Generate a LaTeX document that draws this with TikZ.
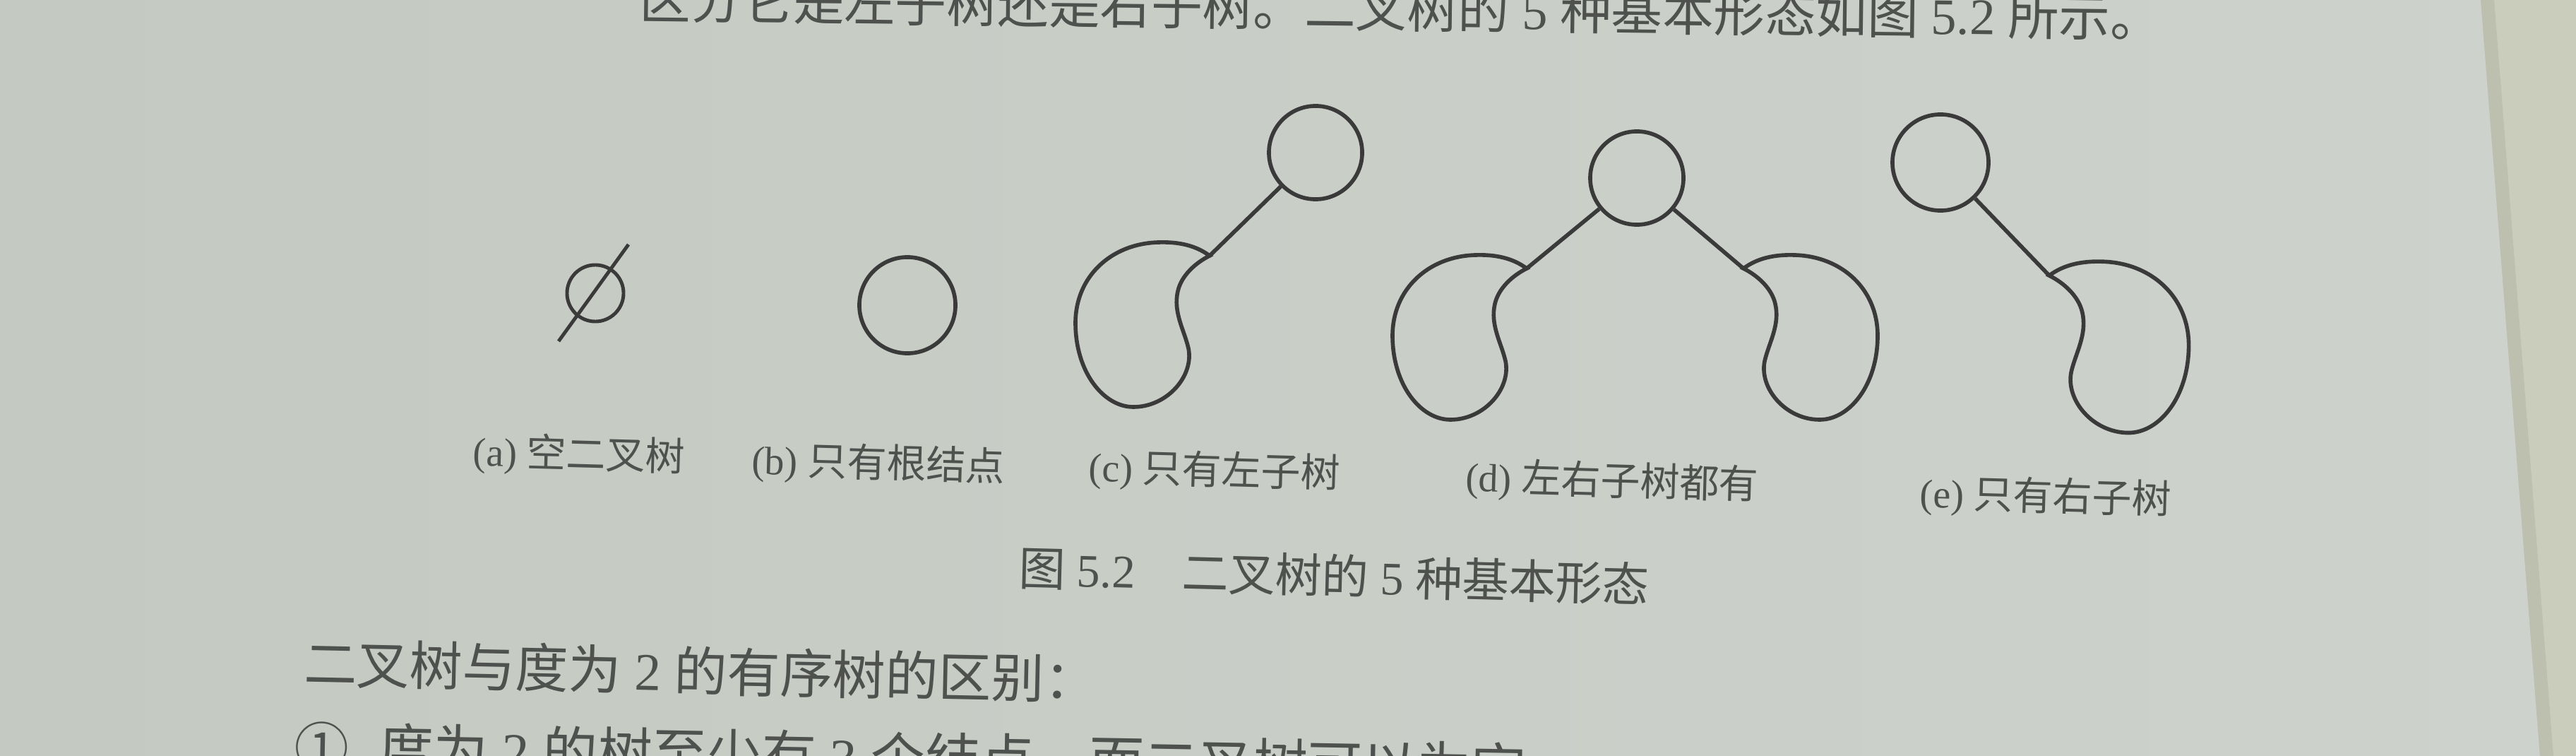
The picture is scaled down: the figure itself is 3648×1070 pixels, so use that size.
\documentclass[tikz,border=0pt]{standalone}
\usepackage{fontspec}
\setmainfont{Liberation Serif}
\newfontfamily\cjk{Noto Sans CJK SC}
\definecolor{page}{RGB}{196,201,193}
\definecolor{pageR}{RGB}{205,210,205}
\definecolor{margin}{RGB}{203,205,188}
\definecolor{edgeshade}{RGB}{189,192,175}
\definecolor{ink}{RGB}{58,58,58}
\definecolor{txt}{RGB}{78,81,78}
\tikzset{
  tree node/.style={circle,draw=ink,line width=1.6pt,minimum size=1.32cm,inner sep=0pt},
  tree edge/.style={draw=ink,line width=1.6pt},
  sub label/.style={text=txt,inner sep=0pt,rotate=-1.6,font=\fontsize{15.9}{18}\selectfont},
  body text/.style={text=txt,inner sep=0pt},
  subtree/.pic={
    \draw[tree edge] (0,0) .. controls (-20,-15) and (-45,-20) .. (-73,-19)
      .. controls (-140,-17) and (-190,30) .. (-190,95)
      .. controls (-190,165) and (-150,214) .. (-108,214)
      .. controls (-60,214) and (-22,170) .. (-30,131)
      .. controls (-36,105) and (-52,80) .. (-45,50)
      .. controls (-40,28) and (-20,10) .. (0,0) -- cycle;
  }
}
\begin{document}
\begin{tikzpicture}[x=0.01cm,y=-0.01cm]
  \useasboundingbox (0,0) rectangle (3648,1070);
  \clip (0,0) rectangle (3648,1070);
  \shade[left color=page,right color=pageR] (0,0) rectangle (3648,1070);
  \fill[margin] (3513,0) -- (3648,0) -- (3648,1070) -- (3597,1070) -- cycle;
  \fill[edgeshade] (3513,0) -- (3532,0) -- (3616,1070) -- (3597,1070) -- cycle;

  \node[body text,font=\fontsize{20.6}{24}\selectfont,anchor=base west,rotate=-0.7] (intro) at (905,26)
    {{\cjk 区分它是左子树还是右子树。二叉树的} 5 {\cjk 种基本形态如图} 5.2 {\cjk 所示。}};

  % (a)
  \node[tree node,minimum size=0.8cm,line width=1.4pt] (a-empty) at (843,415) {};
  \draw[tree edge,line width=1.4pt] ([shift={(47,-69)}]a-empty.center) -- ([shift={(-52,68)}]a-empty.center);
  % (b)
  \node[tree node,minimum size=1.36cm] (b-root) at (1285,432) {};
  % (c)
  \node[tree node] (c-root) at (1863,216) {};
  \coordinate (c-sub) at (1713,362);
  \pic at (c-sub) {subtree};
  \draw[tree edge] (c-root) -- (c-sub);
  % (d)
  \node[tree node] (d-root) at (2318,252) {};
  \coordinate (d-left) at (2162,380);
  \coordinate (d-right) at (2469,380);
  \pic at (d-left) {subtree};
  \pic[xscale=-1] at (d-right) {subtree};
  \draw[tree edge] (d-root) -- (d-left);
  \draw[tree edge] (d-root) -- (d-right);
  % (e)
  \node[tree node,minimum size=1.36cm] (e-root) at (2748,230) {};
  \coordinate (e-sub) at (2902,390);
  \pic[xscale=-1.04,yscale=1.04] at (e-sub) {subtree};
  \draw[tree edge] (e-root) -- (e-sub);

  \node[sub label] (a-cap) at (820,645) {(a) {\cjk 空二叉树}};
  \node[sub label] (b-cap) at (1244,658) {(b) {\cjk 只有根结点}};
  \node[sub label] (c-cap) at (1720,668) {(c) {\cjk 只有左子树}};
  \node[sub label] (d-cap) at (2283,683) {(d) {\cjk 左右子树都有}};
  \node[sub label] (e-cap) at (2897,705) {(e) {\cjk 只有右子树}};

  \node[body text,font=\fontsize{18.8}{22}\selectfont,rotate=-1.5] (fig-cap) at (1889,815)
    {{\cjk 图} 5.2\hspace{1em}{\cjk 二叉树的} 5 {\cjk 种基本形态}};

  \node[body text,font=\fontsize{21.3}{26}\selectfont,anchor=west,rotate=-1.2] (diff) at (430,938)
    {{\cjk 二叉树与度为} 2 {\cjk 的有序树的区别：}};
  \node[body text,font=\fontsize{22}{26}\selectfont,anchor=base west,rotate=-1] (diff-one) at (416,1086)
    {{\cjk ①\hspace{0.55em}度为} 2 {\cjk 的树至少有} 3 {\cjk 个结点，而二叉树可以为空}};
\end{tikzpicture}
\end{document}
